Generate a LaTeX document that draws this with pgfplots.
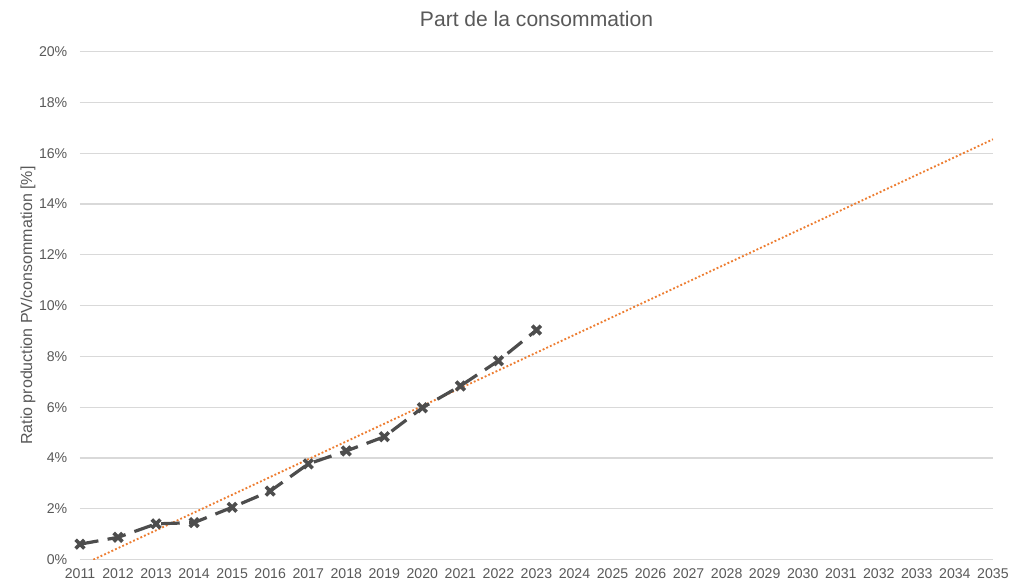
\documentclass[border=0pt]{standalone}
\usepackage{pgfplots}
\pgfplotsset{compat=1.18}
\usepackage{fontspec}
\setmainfont{Liberation Sans}
\definecolor{txtc}{HTML}{595959}
\definecolor{gridc}{HTML}{D9D9D9}
\definecolor{serc}{HTML}{4D4D4D}
\definecolor{trendc}{HTML}{ED7D31}
\begin{document}
\begin{tikzpicture}
\useasboundingbox (-60pt,-19pt) rectangle (702pt,419.75pt);
\begin{axis}[
  at={(0,0)}, anchor=south west,
  scale only axis, width=684.75pt, height=381pt,
  xmin=2011, xmax=2035, ymin=0, ymax=20,
  xtick={2011,2012,...,2035}, ytick={0,2,...,20},
  major tick length=0pt,
  axis line style={draw=none},
  ymajorgrids=true, xmajorgrids=false,
  y grid style={color=gridc, line width=0.9pt},
  /pgf/number format/assume math mode=true,
  xticklabel style={/pgf/number format/1000 sep={}, font=\fontsize{10.6}{12}\selectfont, text=txtc, yshift=-3pt},
  yticklabel={\pgfmathprintnumber{\tick}\%},
  yticklabel style={font=\fontsize{10.6}{12}\selectfont, text=txtc, xshift=-6pt},
  ylabel={Ratio production PV/consommation [\%]},
  ylabel style={at={(axis description cs:-0.057,0.5)}, anchor=center, font=\fontsize{12}{14}\selectfont, text=txtc},
  title={Part de la consommation},
  title style={at={(axis description cs:0.5,1)}, anchor=center, yshift=18.5pt, font=\fontsize{15.8}{18}\selectfont, text=txtc},
]
\addplot[trendc, line width=1.4pt, dash pattern=on 1.4pt off 1.6pt] coordinates {(2011.35,0) (2035,16.55)};
\addplot[serc, line width=2.4pt, dash pattern=on 14pt off 7pt, mark=x, mark size=4.6pt,
  mark options={solid, line width=2.7pt}] coordinates {
(2011,0.61) (2012,0.88) (2013,1.41) (2014,1.46) (2015,2.06) (2016,2.70)
(2017,3.77) (2018,4.28) (2019,4.84) (2020,5.98) (2021,6.84) (2022,7.83) (2023,9.04)};
\end{axis}
\end{tikzpicture}
\end{document}
